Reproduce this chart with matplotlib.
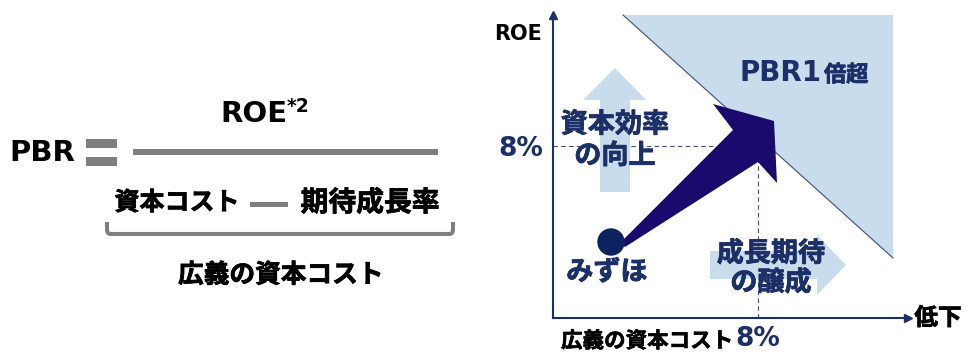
import matplotlib.pyplot as plt
import matplotlib.patheffects as pe
from matplotlib.patches import Polygon, Rectangle, Circle, PathPatch
from matplotlib.path import Path

W, H = 969, 354
JP = ['Noto Sans CJK JP', 'DejaVu Sans']
LATIN = ['DejaVu Sans']

GRAY = '#7f7f7f'
NAVY = '#1b2f68'
PALE = '#c8dcec'
ARROW = '#1a0a6e'
DOT = '#0e2260'
LINE = '#3d4f80'

# formula on the left
formula_lhs = 'PBR'
formula_num = 'ROE'
formula_note = '*2'
formula_den = ['資本コスト', '期待成長率']
formula_brace = '広義の資本コスト'

# quadrant on the right
roe_target = 8    # %
cost_target = 8   # %
axis_labels = ['ROE', '低下', '広義の資本コスト']
zone_label = ['PBR1', '倍超']
driver_labels = ['資本効率\nの向上', '成長期待\nの醸成']
company = 'みずほ'


def heavy(color, w=0.55):
    # the CJK bold face is a little light, so thicken the strokes
    return [pe.withStroke(linewidth=w, foreground=color)]


fig = plt.figure(figsize=(W / 100, H / 100), dpi=100)

# quadrant axes: x = broad cost of capital, y = ROE
qa = fig.add_axes([553 / W, 36 / H, 355 / W, 303 / H], zorder=1)
qa.set_xlim(0, 13.85)
qa.set_ylim(0, 14.1)
qa.patch.set_alpha(0)
for s in ['top', 'right']:
    qa.spines[s].set_visible(False)
for s in ['left', 'bottom']:
    qa.spines[s].set_color(NAVY)
    qa.spines[s].set_linewidth(1.5)
qa.plot(0, 1, marker='^', ms=6, color=NAVY, transform=qa.transAxes, clip_on=False)
qa.plot(1, 0, marker='>', ms=6, color=NAVY, transform=qa.transAxes, clip_on=False)
qa.set_xticks([cost_target])
qa.set_xticklabels([f'{cost_target}%'])
qa.set_yticks([roe_target])
qa.set_yticklabels([f'{roe_target}%'])
qa.tick_params(length=0, labelcolor=NAVY, labelsize=19)
qa.tick_params(axis='y', pad=7)
qa.tick_params(axis='x', pad=6)
for lab in qa.get_xticklabels() + qa.get_yticklabels():
    lab.set_fontweight('bold')
    lab.set_family(LATIN)
qa.plot([0, cost_target], [roe_target, roe_target], color=LINE, lw=0.8,
        ls=(0, (4, 3)))
qa.plot([cost_target, cost_target], [0, roe_target], color=LINE, lw=0.8,
        ls=(0, (4, 3)))

# overlay in pixel units for the formula and the illustrative shapes
ax = fig.add_axes([0, 0, 1, 1], zorder=2)
ax.set_xlim(0, W)
ax.set_ylim(H, 0)
ax.axis('off')
ax.patch.set_alpha(0)

# --- formula ---
ax.text(42, 153, formula_lhs, fontsize=21, fontweight='bold', family=LATIN,
        ha='center', va='center', color='black')
ax.add_patch(Rectangle((86, 139), 31, 9, color=GRAY, lw=0))
ax.add_patch(Rectangle((86, 157), 31, 9, color=GRAY, lw=0))
ax.plot([133, 438], [152, 152], color=GRAY, lw=4.3, solid_capstyle='butt')
ax.text(254, 114, formula_num, fontsize=21, fontweight='bold', family=LATIN,
        ha='center', va='center', color='black')
ax.text(287, 107, formula_note, fontsize=13.5, fontweight='bold', family=LATIN,
        ha='left', va='center', color='black')
ax.text(177, 203, formula_den[0], fontsize=18, fontweight='bold', family=JP,
        ha='center', va='center', color='black', path_effects=heavy('black'))
ax.add_patch(Rectangle((250, 202), 38, 5, color=GRAY, lw=0))
ax.text(370, 203, formula_den[1], fontsize=20, fontweight='bold', family=JP,
        ha='center', va='center', color='black', path_effects=heavy('black'))
brace = Path([(107, 222), (107, 230), (107, 234), (111, 234), (449, 234),
              (453, 234), (453, 230), (453, 222)],
             [Path.MOVETO, Path.LINETO, Path.CURVE3, Path.CURVE3, Path.LINETO,
              Path.CURVE3, Path.CURVE3, Path.LINETO])
ax.add_patch(PathPatch(brace, fill=False, edgecolor=GRAY, lw=2.9,
                       capstyle='butt'))
ax.text(281, 275, formula_brace, fontsize=18.5, fontweight='bold', family=JP,
        ha='center', va='center', color='black', path_effects=heavy('black'))

# --- quadrant decorations ---
ax.text(518, 34, axis_labels[0], fontsize=15, fontweight='bold', family=LATIN,
        ha='center', va='center', color='black')
ax.text(938, 318, axis_labels[1], fontsize=17, fontweight='bold', family=JP,
        ha='center', va='center', color='black', path_effects=heavy('black'))
ax.text(647, 341, axis_labels[2], fontsize=15.5, fontweight='bold', family=JP,
        ha='center', va='center', color='black',
        path_effects=heavy('black', 0.4))

# zone where PBR exceeds 1
ax.add_patch(Polygon([(623, 15), (893, 15), (893, 258)], closed=True,
                     facecolor=PALE, edgecolor='none'))
ax.plot([623, 893], [15, 258], color=LINE, lw=0.8, zorder=1.5)
ax.text(740, 73, zone_label[0], fontsize=20, fontweight='bold', family=LATIN,
        ha='left', va='center', color=NAVY)
ax.text(824, 75, zone_label[1], fontsize=16, fontweight='bold', family=JP,
        ha='left', va='center', color=NAVY, path_effects=heavy(NAVY))

# pale driver arrows
ax.add_patch(Polygon([(615, 68), (646, 100), (630, 100), (630, 192),
                      (600, 192), (600, 100), (583, 100)],
                     closed=True, facecolor=PALE, edgecolor='none'))
ax.add_patch(Polygon([(710, 251), (817, 251), (817, 235), (846, 265),
                      (817, 295), (817, 279), (710, 279)],
                     closed=True, facecolor=PALE, edgecolor='none'))
ax.text(615, 140, driver_labels[0], fontsize=19.5, fontweight='bold',
        family=JP, ha='center', va='center', color=NAVY, linespacing=1.15,
        path_effects=heavy(NAVY))
ax.text(771, 268, driver_labels[1], fontsize=19.5, fontweight='bold',
        family=JP, ha='center', va='center', color=NAVY, linespacing=1.05,
        path_effects=heavy(NAVY))

# current position and the move into the PBR>1 zone
ax.add_patch(Polygon([(620, 243), (733, 130), (713, 104), (774, 121),
                      (777, 183), (758, 162), (625, 247)],
                     closed=True, facecolor=ARROW, edgecolor='none', zorder=3))
ax.add_patch(Circle((611, 242), 13, color=DOT, zorder=3))
ax.text(607, 272, company, fontsize=19.5, fontweight='bold', family=JP,
        ha='center', va='center', color=NAVY, path_effects=heavy(NAVY))

fig.savefig('out.png', dpi=100)
